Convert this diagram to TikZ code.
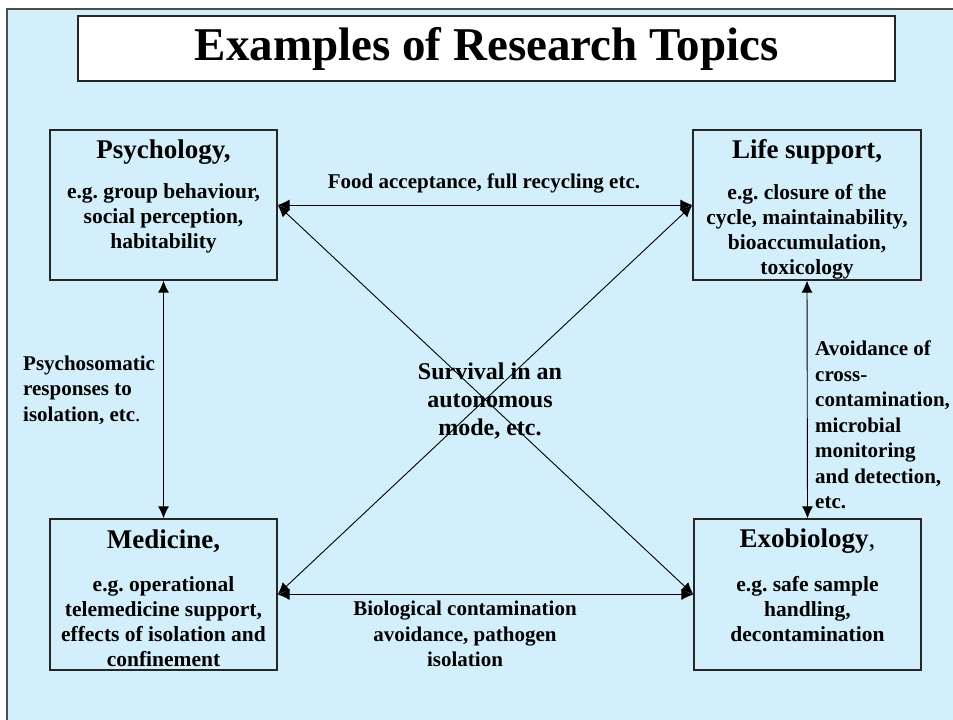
\documentclass[tikz,border=0pt]{standalone}
\usepackage{fontspec}
\setmainfont{Liberation Serif}
\usetikzlibrary{arrows.meta,calc}
\definecolor{bg}{HTML}{D4EFFC}
\frenchspacing
\begin{document}
\begin{tikzpicture}[x=1pt,y=-1pt,
 box/.style={draw=black!85, line width=1.3pt, fill=bg, inner sep=0pt},
 conn/.style={line width=0.9pt, {Latex[length=12pt,width=11pt]}-{Latex[length=12pt,width=11pt]}},
 head/.style={font=\bfseries\fontsize{27}{30}\selectfont, inner sep=0pt},
 body/.style={font=\bfseries\fontsize{21.5}{25}\selectfont, align=center, inner sep=0pt},
 lab/.style={font=\bfseries\fontsize{21}{25.5}\selectfont, inner sep=0pt}]
\useasboundingbox (0,0) rectangle (953,720);
\fill[white] (0,0) rectangle (953,720);
\draw[fill=bg, draw=black!70, line width=1.2pt] (7,9) rectangle (965,735);
% title
\node[draw=black!85, line width=1.2pt, fill=white, minimum width=817pt, minimum height=65pt, inner sep=0pt,
      font=\bfseries\fontsize{47}{52}\selectfont] (title) at (486.5,48.5) {Examples of Research Topics};
% boxes
\node[box, minimum width=227pt, minimum height=150pt] (psy) at (163.5,205) {};
\node[box, minimum width=228pt, minimum height=150pt] (life) at (807,205) {};
\node[box, minimum width=227pt, minimum height=151pt] (med) at (163.5,594.5) {};
\node[box, minimum width=227pt, minimum height=151pt] (exo) at (807.5,594.5) {};
% box texts
\node[head] (psyh) at ($(psy.north)+(0,23)$) {Psychology,};
\node[body] (psyb) at ($(psy.north)+(0,89)$) {e.g. group behaviour,\\social perception,\\habitability};
\node[head] (lifeh) at ($(life.north)+(0,23)$) {Life support,};
\node[body] (lifeb) at ($(life.north)+(0,102)$) {e.g. closure of the\\cycle, maintainability,\\bioaccumulation,\\toxicology};
\node[head] (medh) at ($(med.north)+(0,23)$) {Medicine,};
\node[body] (medb) at ($(med.north)+(0,103)$) {e.g. operational\\telemedicine support,\\effects of isolation and\\confinement};
\node[head] (exoh) at ($(exo.north)+(0,23)$) {Exobiology\textmd{,}};
\node[body] (exob) at ($(exo.north)+(0,91)$) {e.g. safe sample\\handling,\\decontamination};
% connectors
\draw[conn] (psy.east) -- (life.west);
\draw[conn] (med.east) -- (exo.west);
\draw[conn] (psy.east) -- (exo.west);
\draw[conn] (life.west) -- (med.east);
\draw[conn] (psy.south) -- (med.north);
\draw[conn] (life.south) -- (exo.north);
% labels
\node[lab] (lfood) at (484,183) {Food acceptance, full recycling etc.};
\node[lab, align=left, anchor=west] (lpsy) at (23,390) {Psychosomatic\\responses to\\isolation, etc\textmd{.}};
\node[lab, align=left, anchor=west] (lav) at (815,425) {Avoidance of\\cross-\\contamination,\\microbial\\monitoring\\and detection,\\etc.};
\node[lab, align=center, font=\bfseries\fontsize{24}{28}\selectfont] (lsurv) at (490,401) {Survival in an\\autonomous\\mode, etc.};
\node[lab, align=center] (lbio) at (465,634) {Biological contamination\\avoidance, pathogen\\isolation};
\end{tikzpicture}
\end{document}
